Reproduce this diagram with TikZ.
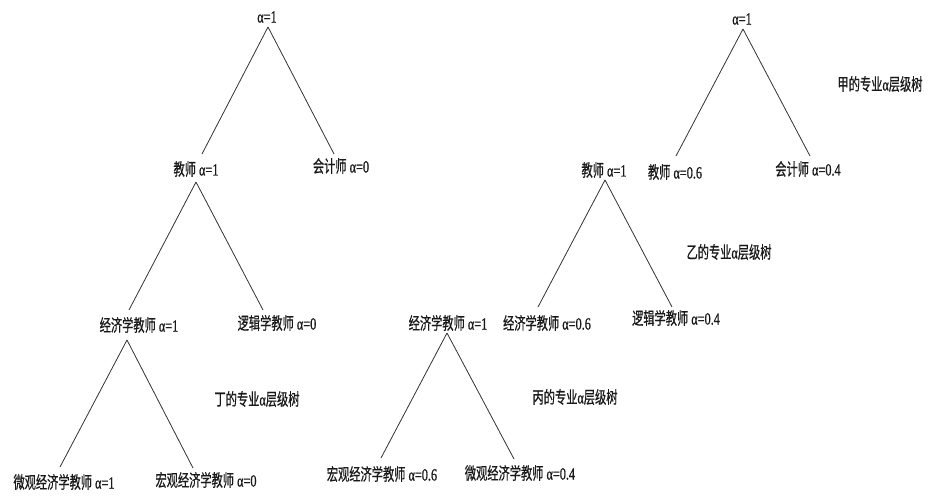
\documentclass[tikz,border=0pt]{standalone}
\usepackage{fontspec}
\setmainfont[FakeStretch=0.72,FakeBold=0.8]{Liberation Serif}
\newfontfamily\cjk[FakeStretch=0.66,FakeBold=0.6]{Noto Sans CJK SC}
\begin{document}
\begin{tikzpicture}[x=1pt,y=-1pt,
  lbl/.style={inner sep=0pt, font=\fontsize{17}{20}\selectfont, text=black!90},
  link/.style={draw=black!80, line width=0.8pt}]
\useasboundingbox[fill=white] (0,0) rectangle (931,501);
% Tree Ding
\node[lbl] (r1) at (267,17) {α=1};
\node[lbl] (t1) at (196,169) {{\cjk 教师} α=1};
\node[lbl] (k1) at (341,166) {{\cjk 会计师} α=0};
\node[lbl] (e1) at (139,325) {{\cjk 经济学教师} α=1};
\node[lbl] (l1) at (277,323) {{\cjk 逻辑学教师} α=0};
\node[lbl] (w1) at (64,482) {{\cjk 微观经济学教师} α=1};
\node[lbl] (h1) at (206,480) {{\cjk 宏观经济学教师} α=0};
\node[lbl] (c1) at (257,399) {{\cjk 丁的专业}α{\cjk 层级树}};
\draw[link] ([shift={(1,10)}]r1.center) -- ([shift={(6,-15)}]t1.center);
\draw[link] ([shift={(1,10)}]r1.center) -- ([shift={(-7,-12)}]k1.center);
\draw[link] ([shift={(0,13)}]t1.center) -- ([shift={(-10,-15)}]e1.center);
\draw[link] ([shift={(0,13)}]t1.center) -- ([shift={(-14,-13)}]l1.center);
\draw[link] ([shift={(-12,15)}]e1.center) -- ([shift={(-4,-15)}]w1.center);
\draw[link] ([shift={(-12,15)}]e1.center) -- ([shift={(-13,-12)}]h1.center);
% Tree Bing
\node[lbl] (e2) at (448,323) {{\cjk 经济学教师} α=1};
\node[lbl] (h2) at (382,474) {{\cjk 宏观经济学教师} α=0.6};
\node[lbl] (w2) at (520,473) {{\cjk 微观经济学教师} α=0.4};
\node[lbl] (c2) at (575,397) {{\cjk 丙的专业}α{\cjk 层级树}};
\draw[link] ([shift={(-1,10)}]e2.center) -- ([shift={(-1,-16)}]h2.center);
\draw[link] ([shift={(-1,10)}]e2.center) -- ([shift={(-6,-14)}]w2.center);
% Tree Yi
\node[lbl] (t3) at (604,170) {{\cjk 教师} α=1};
\node[lbl] (e3) at (547,323) {{\cjk 经济学教师} α=0.6};
\node[lbl] (l3) at (676,318) {{\cjk 逻辑学教师} α=0.4};
\node[lbl] (c3) at (729,252) {{\cjk 乙的专业}α{\cjk 层级树}};
\draw[link] ([shift={(1,10)}]t3.center) -- ([shift={(-9,-16)}]e3.center);
\draw[link] ([shift={(1,10)}]t3.center) -- ([shift={(-4,-11)}]l3.center);
% Tree Jia
\node[lbl] (r4) at (742,19) {α=1};
\node[lbl] (t4) at (675,172) {{\cjk 教师} α=0.6};
\node[lbl] (k4) at (808,169) {{\cjk 会计师} α=0.4};
\node[lbl] (c4) at (880,84) {{\cjk 甲的专业}α{\cjk 层级树}};
\draw[link] ([shift={(1,10)}]r4.center) -- ([shift={(1,-16)}]t4.center);
\draw[link] ([shift={(1,10)}]r4.center) -- ([shift={(2,-13)}]k4.center);
\end{tikzpicture}
\end{document}
